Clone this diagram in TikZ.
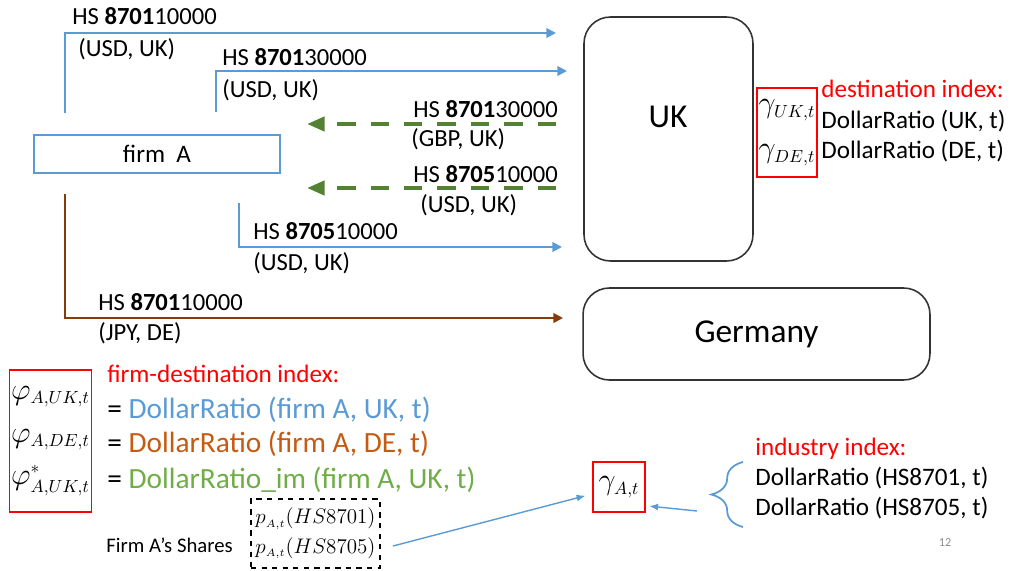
\documentclass[tikz,border=0pt]{standalone}
\usepackage{amsmath}
\usepackage{fontspec}
\setmainfont{Carlito}
\usetikzlibrary{arrows.meta,positioning,calc,decorations.pathreplacing}
\definecolor{flowblue}{HTML}{5B9BD5}
\definecolor{flowbrown}{HTML}{843C0C}
\definecolor{flowgreen}{HTML}{548235}
\definecolor{txtbrown}{HTML}{C55A11}
\definecolor{txtgreen}{HTML}{70AD47}
\newcommand{\tinysub}[1]{_{\scriptscriptstyle #1}}

\begin{document}
\begin{tikzpicture}[x=0.02cm,y=-0.02cm,>=Stealth,
  exflow/.style={flowblue,line width=1.1pt,-{Triangle[length=5.5pt,width=5.5pt]}},
  deflow/.style={flowbrown,line width=1.1pt,-{Triangle[length=5.5pt,width=5.5pt]}},
  imflow/.style={flowgreen,line width=2.3pt,dash pattern=on 10.5pt off 8.5pt,-{Triangle[length=10pt,width=8pt]}},
  thinflow/.style={flowblue,line width=0.8pt,-{Latex[length=5pt,width=4pt]}},
  hslab/.style={anchor=base west,inner sep=0pt,font=\fontsize{14}{17}\selectfont},
  country/.style={draw=black!80,line width=0.9pt,rounded corners=15pt,inner sep=0pt},
  redbox/.style={draw=red,line width=0.9pt,inner sep=1pt},
  idxhead/.style={anchor=base west,inner sep=0pt,text=red,font=\fontsize{14.3}{17}\selectfont},
  idxline/.style={anchor=base west,inner sep=0pt,font=\fontsize{14.3}{17}\selectfont},
  bigline/.style={anchor=base west,inner sep=0pt,font=\fontsize{16.7}{20}\selectfont}]
  \useasboundingbox (0,0) rectangle (1011,571);

  % destinations
  \node[country,minimum width=3.38cm,minimum height=4.88cm] (uk) at (668.5,139) {};
  \node[font=\fontsize{19}{23}\selectfont] (uklab) at (668,117) {UK};
  \node[country,minimum width=6.94cm,minimum height=1.84cm,font=\fontsize{19}{23}\selectfont] (de) at (756.5,334) {Germany};

  % exporter
  \node[draw=flowblue,line width=0.8pt,minimum width=4.92cm,minimum height=0.76cm,inner sep=0pt,font=\fontsize{14.3}{17}\selectfont] (firm) at (157,154) {firm~~A};

  % trade flows
  \coordinate (s1) at (65,113);  \coordinate (e1) at (556,33);
  \coordinate (s2) at (216,112); \coordinate (e2) at (567,71);
  \coordinate (s3) at (556,124); \coordinate (e3) at (307,124);
  \coordinate (s4) at (556,188); \coordinate (e4) at (307,188);
  \coordinate (s5) at (239,203); \coordinate (e5) at (562,247);
  \coordinate (s6) at (65,194);  \coordinate (e6) at (563,318);
  \draw[exflow] (s1) |- (e1);
  \draw[exflow] (s2) |- (e2);
  \draw[imflow] (s3) -- (e3);
  \draw[imflow] (s4) -- (e4);
  \draw[exflow] (s5) |- (e5);
  \draw[deflow] (s6) |- (e6);

  \node[hslab] (l1a) at (72,25) {HS \textbf{8701}10000};
  \node[hslab] (l1b) at (78,57) {(USD, UK)};
  \node[hslab] (l2a) at (222,66) {HS \textbf{8701}30000};
  \node[hslab] (l2b) at (222,98) {(USD, UK)};
  \node[hslab] (l3a) at (413,117) {HS \textbf{8701}30000};
  \node[hslab] (l3b) at (411,147) {(GBP, UK)};
  \node[hslab] (l4a) at (413,182) {HS \textbf{8705}10000};
  \node[hslab] (l4b) at (420,213) {(USD, UK)};
  \node[hslab] (l5a) at (253,239) {HS \textbf{8705}10000};
  \node[hslab] (l5b) at (253,270) {(USD, UK)};
  \node[hslab] (l6a) at (98,310) {HS \textbf{8701}10000};
  \node[hslab] (l6b) at (98,340) {(JPY, DE)};

  % destination index
  \node[redbox,minimum width=1.08cm,minimum height=1.78cm,align=center,font=\fontsize{17.28}{25.5}\selectfont] (gdest) at (787,132.5) {$\gamma\tinysub{UK,t}$\\$\gamma\tinysub{DE,t}$};
  \node[idxhead] (desthead) at (821,98) {destination index:};
  \node[idxline] (destuk) at (821,129) {DollarRatio (UK, t)};
  \node[idxline] (destde) at (821,158) {DollarRatio (DE, t)};

  % firm-destination index
  \node[redbox,minimum width=1.62cm,minimum height=2.84cm,align=center,font=\fontsize{17.28}{24.4}\selectfont] (phibox) at (50.5,441) {$\varphi\tinysub{A,UK,t}$\\$\varphi\tinysub{A,DE,t}$\\$\varphi^{\scriptscriptstyle *}\tinysub{A,UK,t}$};
  \node[idxhead] (firmhead) at (107,382) {firm-destination index:};
  \node[bigline,text=flowblue] (firmuk) at (107,418) {\textcolor{black}{=} DollarRatio (firm A, UK, t)};
  \node[bigline,text=txtbrown] (firmde) at (107,452) {\textcolor{black}{=} DollarRatio (firm A, DE, t)};
  \node[bigline,text=txtgreen] (firmim) at (107,488) {\textcolor{black}{=} DollarRatio\_im (firm A, UK, t)};

  % firm shares
  \node[draw,dashed,line width=0.8pt,minimum width=2.58cm,minimum height=1.38cm,align=left,inner sep=1pt,font=\fontsize{12}{17}\selectfont] (shares) at (315.5,533.5) {$p\tinysub{A,t}(HS8701)$\\$p\tinysub{A,t}(HS8705)$};
  \node[anchor=base west,inner sep=0pt,font=\fontsize{11.8}{14}\selectfont] (shareslab) at (106,552) {Firm A’s Shares};

  % industry index
  \node[redbox,minimum width=1.04cm,minimum height=1.0cm,font=\fontsize{17.28}{20}\selectfont] (gammaA) at (619,487) {$\gamma\tinysub{A,t}$};
  \node[idxhead] (indhead) at (755,455) {industry index:};
  \node[idxline] (ind01) at (755,485) {DollarRatio (HS8701, t)};
  \node[idxline] (ind05) at (755,515) {DollarRatio (HS8705, t)};
  \draw[flowblue,line width=1pt,decorate,decoration={brace,amplitude=18pt}] (743,527) -- (743,462);

  \coordinate (bracein) at (697,511);
  \coordinate (sharesout) at (393,546);
  \draw[thinflow,shorten >=2pt] (bracein) -- (gammaA.-35);
  \draw[thinflow,shorten >=4pt] (sharesout) -- (gammaA);

  \node[text=black!45,font=\fontsize{7}{8}\selectfont] (pgno) at (945,543) {12};
\end{tikzpicture}
\end{document}
